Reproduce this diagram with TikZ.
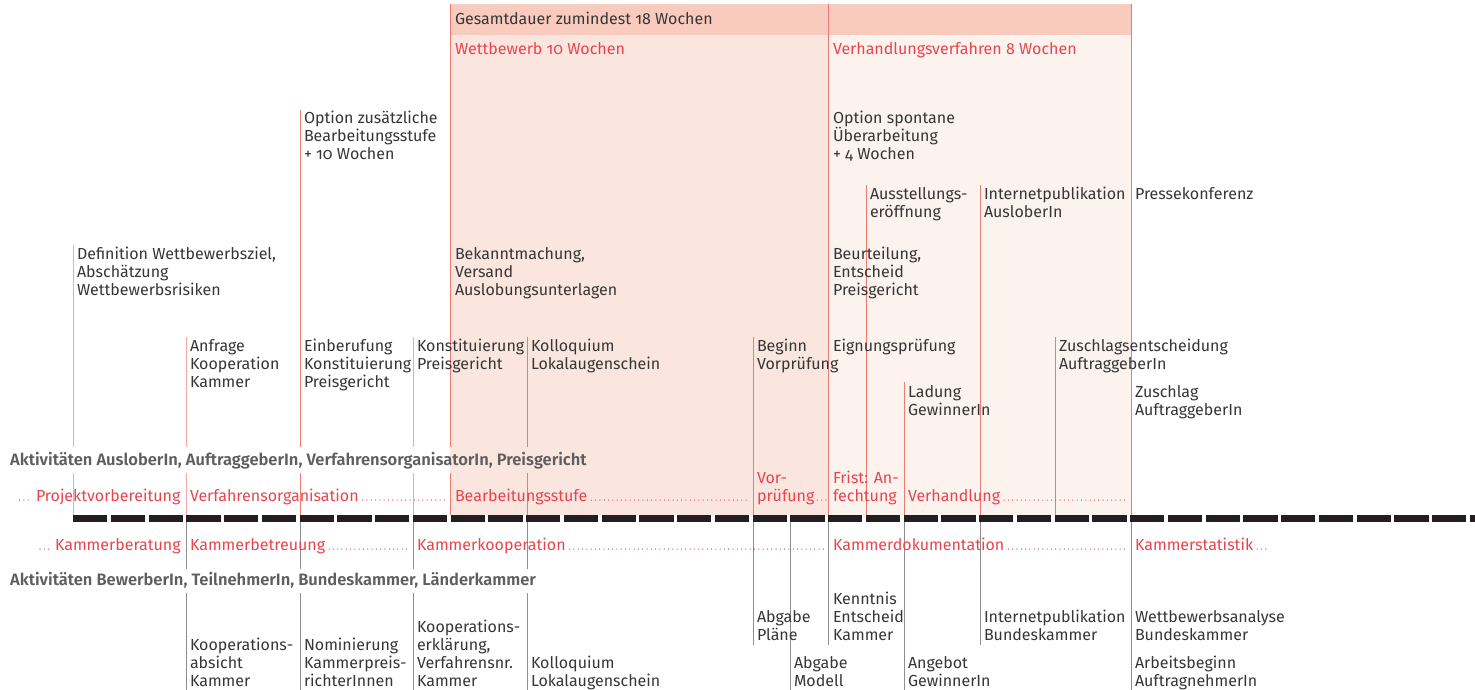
\documentclass[tikz,border=0pt]{standalone}
\usepackage{fontspec}
\setmainfont{Fira Sans}[Numbers=OldStyle]
\newfontfamily\hdfont{Fira Sans SemiBold}[Numbers=OldStyle]
\definecolor{txt}{HTML}{363636}
\definecolor{redt}{HTML}{E9444E}
\definecolor{hdgrey}{HTML}{5E5E5E}
\definecolor{bandc}{HTML}{F9CBBF}
\definecolor{wettc}{HTML}{FAE6DF}
\definecolor{verhc}{HTML}{FDF3EE}
\definecolor{lredc}{HTML}{EF7A72}
\definecolor{lpinkc}{HTML}{F5A8A2}
\definecolor{lgreyc}{HTML}{8E8E8E}
\definecolor{barc}{HTML}{231F20}
% note: base anchor of a multi-line node = baseline of its LAST line
\tikzset{
  lab/.style={anchor=base west, inner sep=0pt, outer sep=0pt, align=left, text=txt,
    font=\fontsize{16}{18}\selectfont},
  redlab/.style={lab, text=redt},
  hd/.style={anchor=base west, inner sep=0pt, text=hdgrey, font=\hdfont\fontsize{16.5}{18}\selectfont},
  lred/.style={draw=lredc, line width=1pt},
  lpink/.style={draw=lpinkc, line width=1pt},
  lgrey/.style={draw=lgreyc, line width=1pt},
  leader/.style={draw=redt, line width=1.3pt, line cap=round, dash pattern=on 0pt off 4.3pt}
}
\begin{document}
\begin{tikzpicture}[x=1pt,y=-1pt]
\useasboundingbox (0,0) rectangle (1475,690);
% shading
\fill[bandc] (450,4) rectangle (1131,35);
\fill[wettc] (450,35) rectangle (828,515);
\fill[verhc] (828,35) rectangle (1131,515);
% timeline bar
\begin{scope}
\clip (0,0) rectangle (1475,690);
\foreach \k in {0,...,37} {
  \fill[barc] ({73+\k*37.75},515) rectangle ({73+\k*37.75+34.3},522);
}
\end{scope}
% vertical lines above the bar
\draw[lpink] (73,245) -- (73,447) (73,473) -- (73,515);
\draw[lpink] (186,337) -- (186,447) (186,473) -- (186,515);
\draw[lred] (300,110) -- (300,447) (300,473) -- (300,515);
\draw[lpink] (413,337) -- (413,447) (413,473) -- (413,515);
\draw[lred] (450,4) -- (450,447) (450,473) -- (450,515);
\draw[lred] (527,337) -- (527,447) (527,473) -- (527,515);
\draw[lred] (753,337) -- (753,515);
\draw[lred] (828,4) -- (828,515);
\draw[lred] (866,185) -- (866,515);
\draw[lred] (904,382) -- (904,515);
\draw[lred] (980,185) -- (980,515);
\draw[lred] (1055,337) -- (1055,515);
\draw[lred] (1131,4) -- (1131,515);
% vertical lines below the bar
\foreach \x in {186,300,413,527} {
  \draw[lgrey] (\x,522) -- (\x,569) (\x,593) -- (\x,690);
}
\foreach \x in {753,828,980} { \draw[lgrey] (\x,522) -- (\x,645); }
\foreach \x in {790,904,1131} { \draw[lgrey] (\x,522) -- (\x,690); }
% top band texts
\node[lab] (gd) at (455,25) {Gesamtdauer zumindest 18 Wochen};
\node[redlab] (wb) at (455,55) {Wettbewerb 10 Wochen};
\node[redlab] (vv) at (833,55) {Verhandlungsverfahren 8 Wochen};
% upper labels
\node[lab] (opt1) at (304,160) {Option zusätzliche\\Bearbeitungsstufe\\+ 10 Wochen};
\node[lab] (opt2) at (833,160) {Option spontane\\Überarbeitung\\+ 4 Wochen};
\node[lab] (aus) at (870,217) {Ausstellungs-\\eröffnung};
\node[lab] (ipa) at (984,217) {Internetpublikation\\AusloberIn};
\node[lab] (pk) at (1135,199) {Pressekonferenz};
\node[lab] (def) at (77,295) {Definition Wettbewerbsziel,\\Abschätzung\\Wettbewerbsrisiken};
\node[lab] (bek) at (455,295) {Bekanntmachung,\\Versand\\Auslobungsunterlagen};
\node[lab] (beu) at (833,295) {Beurteilung,\\Entscheid\\Preisgericht};
\node[lab] (anf) at (190,387) {Anfrage\\Kooperation\\Kammer};
\node[lab] (ein) at (304,387) {Einberufung\\Konstituierung\\Preisgericht};
\node[lab] (kon) at (417,369) {Konstituierung\\Preisgericht};
\node[lab] (kol) at (531,369) {Kolloquium\\Lokalaugenschein};
\node[lab] (bvp) at (757,369) {Beginn\\Vorprüfung};
\node[lab] (eig) at (833,351) {Eignungsprüfung};
\node[lab] (zse) at (1059,369) {Zuschlagsentscheidung\\AuftraggeberIn};
\node[lab] (lad) at (908,415) {Ladung\\GewinnerIn};
\node[lab] (zsl) at (1135,415) {Zuschlag\\AuftraggeberIn};
% headers
\node[hd] (h1) at (10,465) {Aktivitäten AusloberIn, AuftraggeberIn, VerfahrensorganisatorIn, Preisgericht};
\node[hd] (h2) at (10,585) {Aktivitäten BewerberIn, TeilnehmerIn, Bundeskammer, Länderkammer};
% red phase row (upper)
\node[redlab] (pv) at (36,501) {Projektvorbereitung};
\node[redlab] (vo) at (190,501) {Verfahrensorganisation};
\node[redlab] (bs) at (455,501) {Bearbeitungsstufe};
\node[redlab] (vp) at (757,501) {Vor-\\prüfung};
\node[redlab] (fa) at (833,501) {Frist: An-\\fechtung};
\node[redlab] (vh) at (908,501) {Verhandlung};
\draw[leader] (19.5,500.1) -- (31,500.1);
\draw[leader] ([xshift=4pt,yshift=0.9pt]vo.base east) -- (447,500.1);
\draw[leader] ([xshift=4pt,yshift=0.9pt]bs.base east) -- (750,500.1);
\draw[leader] ([xshift=3pt,yshift=0.9pt]vp.base east) -- (826,500.1);
\draw[leader] ([xshift=4pt,yshift=0.9pt]vh.base east) -- (1127,500.1);
% red phase row (lower)
\node[redlab] (kb) at (55,550) {Kammerberatung};
\node[redlab] (kbt) at (190,550) {Kammerbetreuung};
\node[redlab] (kk) at (417,550) {Kammerkooperation};
\node[redlab] (kd) at (833,550) {Kammerdokumentation};
\node[redlab] (ks) at (1135,550) {Kammerstatistik};
\draw[leader] (40,549.1) -- (50,549.1);
\draw[leader] ([xshift=4pt,yshift=0.9pt]kbt.base east) -- (410,549.1);
\draw[leader] ([xshift=4pt,yshift=0.9pt]kk.base east) -- (825,549.1);
\draw[leader] ([xshift=4pt,yshift=0.9pt]kd.base east) -- (1127,549.1);
\draw[leader] ([xshift=4pt,yshift=0.9pt]ks.base east) -- ++(9pt,0pt);
% lower labels
\node[lab] (b1) at (190,686) {Kooperations-\\absicht\\Kammer};
\node[lab] (b2) at (304,686) {Nominierung\\Kammerpreis-\\richterInnen};
\node[lab] (b3) at (417,686) {Kooperations-\\erklärung,\\Verfahrensnr.\\Kammer};
\node[lab] (b4) at (531,686) {Kolloquium\\Lokalaugenschein};
\node[lab] (b5) at (757,640) {Abgabe\\Pläne};
\node[lab] (b6) at (794,686) {Abgabe\\Modell};
\node[lab] (b7) at (833,640) {Kenntnis\\Entscheid\\Kammer};
\node[lab] (b8) at (908,686) {Angebot\\GewinnerIn};
\node[lab] (b9) at (984,640) {Internetpublikation\\Bundeskammer};
\node[lab] (b10) at (1135,640) {Wettbewerbsanalyse\\Bundeskammer};
\node[lab] (b11) at (1135,686) {Arbeitsbeginn\\AuftragnehmerIn};
\end{tikzpicture}
\end{document}
